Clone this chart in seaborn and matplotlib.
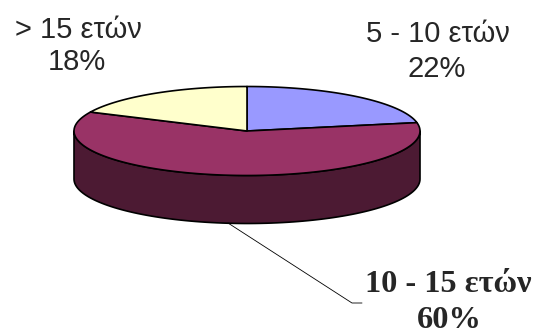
import numpy as np
import matplotlib
matplotlib.use("Agg")
import matplotlib.pyplot as plt
from matplotlib.patches import Polygon
import seaborn as sns

# Data
categories = ["5 - 10 ετών", "10 - 15 ετών", "> 15 ετών"]
shares = [22, 60, 18]
top_colors = ["#9999FF", "#993366", "#FFFFCC"]
side_colors = ["#4D4D80", "#4C1A33", "#808066"]

sns.set_theme(style="white")
plt.rcParams["font.family"] = ["Liberation Sans", "DejaVu Sans"]

W, H = 533, 336
fig = plt.figure(figsize=(W / 100, H / 100), dpi=100)
ax = fig.add_axes([0, 0, 1, 1])
ax.set_xlim(0, W)
ax.set_ylim(H, 0)
ax.axis("off")

cx, cy, a, b, depth = 247, 131, 173, 44.5, 48


def pt(t):
    t = np.radians(t)
    return cx + a * np.cos(t), cy - b * np.sin(t)


# slice angle ranges (start at 90 deg, clockwise)
total = sum(shares)
ranges = []
start = 90.0
for s in shares:
    end = start - 360.0 * s / total
    ranges.append((end, start))
    start = end

# side walls (front half: 180..360 in parametric angle)
for (t0, t1), col in zip(ranges, side_colors):
    for shift in (0, 360, -360):
        lo = max(t0 + shift, 180)
        hi = min(t1 + shift, 360)
        if hi > lo:
            ts = np.linspace(lo, hi, 100)
            xs, ys = pt(ts)
            poly = np.vstack([np.column_stack([xs, ys]),
                              np.column_stack([xs[::-1], ys[::-1] + depth])])
            ax.add_patch(Polygon(poly, closed=True, facecolor=col,
                                 edgecolor="black", lw=1.2, joinstyle="round"))

# top slices
for (t0, t1), col in zip(ranges, top_colors):
    ts = np.linspace(t0, t1, 200)
    xs, ys = pt(ts)
    poly = np.vstack([[cx, cy], np.column_stack([xs, ys])])
    ax.add_patch(Polygon(poly, closed=True, facecolor=col,
                         edgecolor="black", lw=1.2, joinstyle="round"))

# leader line for the large slice
ax.plot([228, 352, 362], [223, 303, 303], color="black", lw=0.6)

# labels
sans = dict(ha="center", va="baseline", fontsize=21)
ax.text(78, 38, categories[2], **sans)
ax.text(77, 70, f"{shares[2]}%", **sans)
ax.text(438, 42, categories[0], **sans)
ax.text(437, 77, f"{shares[0]}%", **sans)

serif = dict(ha="center", fontsize=23.3, fontweight="bold",
             family=["Liberation Serif", "DejaVu Serif"])
ax.text(448.5, 292, categories[1], va="baseline", **serif)
ax.text(449, 335, f"{shares[1]}%", va="bottom", **serif)

fig.savefig("out.png", dpi=100, facecolor="white")
